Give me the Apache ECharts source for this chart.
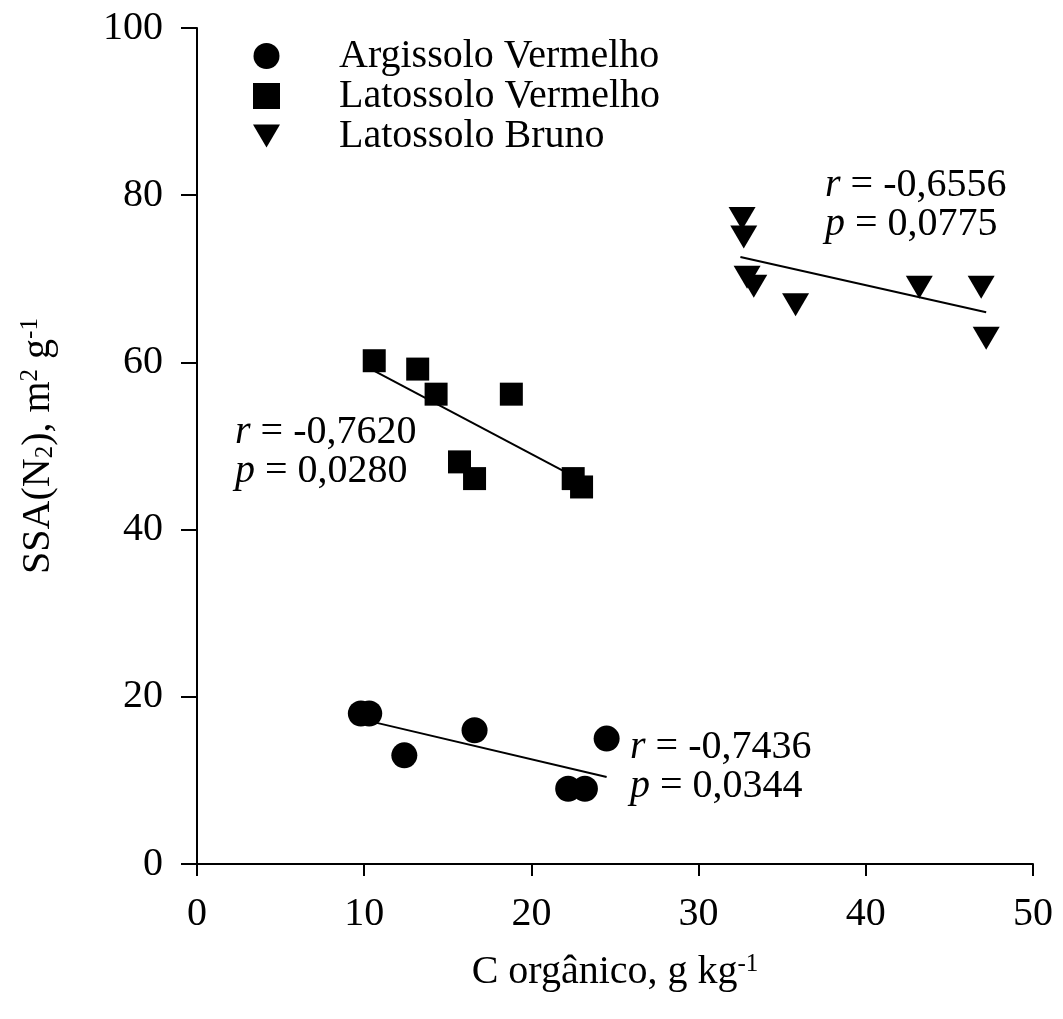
<!DOCTYPE html>
<html>
<head>
<meta charset="utf-8">
<script src="https://cdn.jsdelivr.net/npm/echarts@6/dist/echarts.min.js"></script>
<style>html,body{margin:0;padding:0;background:#fff;}#c{width:1063px;height:1019px;}</style>
</head>
<body>
<div id="c"></div>
<script>
// Data
const seriesNames = ['Argissolo Vermelho', 'Latossolo Vermelho', 'Latossolo Bruno'];
const argX = [9.8, 10.3, 12.4, 16.6, 22.2, 23.2, 24.5];
const argY = [18.0, 18.0, 13.0, 16.0, 9.0, 9.0, 15.0];
const latVX = [10.6, 13.2, 14.3, 18.8, 15.7, 16.6, 22.5, 23.0];
const latVY = [60.2, 59.2, 56.2, 56.2, 48.1, 46.1, 46.1, 45.1];
const latBX = [32.6, 32.7, 32.9, 33.3, 35.8, 43.2, 46.9, 47.2];
const latBY = [77.2, 75.0, 70.2, 69.1, 66.9, 69.0, 69.0, 62.9];
// regression line endpoints
const fitArgX = [10.5, 24.5], fitArgY = [17.0, 10.4];
const fitLatVX = [10.6, 22.5], fitLatVY = [59.0, 46.4];
const fitLatBX = [32.5, 47.2], fitLatBY = [72.6, 66.0];
const xTicks = [0, 10, 20, 30, 40, 50];
const yTicks = [0, 20, 40, 60, 80, 100];
const stats = [
  {r: '-0,7436', p: '0,0344'},
  {r: '-0,7620', p: '0,0280'},
  {r: '-0,6556', p: '0,0775'}
];

const zip = (xs, ys) => xs.map((x, i) => [x, ys[i]]);
const FONT = '"Liberation Serif", "Times New Roman", serif';
const FS = 40;
const tri = 'path://M0,0 L20,0 L10,17 Z';

const chart = echarts.init(document.getElementById('c'));
const lineSeries = (xs, ys) => ({
  type: 'line', data: zip(xs, ys), symbol: 'none', silent: true,
  lineStyle: {color: '#000', width: 2}, z: 1, legendHoverLink: false
});
const annot = (x, y, s) => ({
  type: 'text', left: x, top: y, silent: true,
  style: {
    rich: {
      i: {fontFamily: FONT, fontSize: FS, fontStyle: 'italic', fill: '#000', lineHeight: 39},
      n: {fontFamily: FONT, fontSize: FS, fill: '#000', lineHeight: 39}
    },
    text: '{i|r}{n| = ' + s.r + '}\n{i|p}{n| = ' + s.p + '}'
  }
});
const richName = {
  n: {fontFamily: FONT, fontSize: FS, color: '#000', lineHeight: 40},
  sup: {fontFamily: FONT, fontSize: 25, color: '#000', lineHeight: 40, verticalAlign: 'top', padding: [0,0,14,0]},
  sub: {fontFamily: FONT, fontSize: 25, color: '#000', lineHeight: 40, verticalAlign: 'bottom', padding: [14,0,0,0]}
};

chart.setOption({
  animation: false,
  backgroundColor: '#fff',
  grid: {left: 197, right: 30, top: 28, bottom: 155, containLabel: false},
  legend: {
    orient: 'vertical', left: 248, top: 31, itemGap: 0,
    itemWidth: 27, itemHeight: 26,
    data: [
      {name: seriesNames[0], icon: 'circle'},
      {name: seriesNames[1], icon: 'rect'},
      {name: seriesNames[2], icon: tri}
    ],
    textStyle: {fontFamily: FONT, fontSize: FS, lineHeight: 40, color: '#000', padding: [0, 0, 0, 54]},
    selectedMode: false
  },
  xAxis: {
    type: 'value', min: 0, max: 50, interval: 10,
    name: '{n|C orgânico, g kg}{sup|-1}',
    nameLocation: 'middle', nameGap: 88,
    nameTextStyle: {rich: richName},
    axisLine: {show: true, onZero: false, lineStyle: {color: '#000', width: 2}},
    axisTick: {show: true, inside: false, length: 12, lineStyle: {color: '#000', width: 2}},
    axisLabel: {fontFamily: FONT, fontSize: FS, color: '#000', margin: 30,
      formatter: v => xTicks.includes(v) ? String(v) : ''},
    splitLine: {show: false}
  },
  yAxis: {
    type: 'value', min: 0, max: 100, interval: 20,
    name: '{n|SSA(N}{sub|2}{n|), m}{sup|2}{n| g}{sup|-1}',
    nameLocation: 'middle', nameGap: 139, nameRotate: 90,
    nameTextStyle: {rich: richName},
    axisLine: {show: true, onZero: false, lineStyle: {color: '#000', width: 2}},
    axisTick: {show: true, inside: false, length: 16, lineStyle: {color: '#000', width: 2}},
    axisLabel: {fontFamily: FONT, fontSize: FS, color: '#000', margin: 34,
      formatter: v => yTicks.includes(v) ? String(v) : ''},
    splitLine: {show: false}
  },
  series: [
    {name: seriesNames[0], type: 'scatter', data: zip(argX, argY), symbol: 'circle', symbolSize: 26,
      itemStyle: {color: '#000', opacity: 1}, z: 3},
    {name: seriesNames[1], type: 'scatter', data: zip(latVX, latVY), symbol: 'rect', symbolSize: 23,
      itemStyle: {color: '#000', opacity: 1}, z: 3},
    {name: seriesNames[2], type: 'scatter', data: zip(latBX, latBY), symbol: tri, symbolSize: [27, 23],
      itemStyle: {color: '#000', opacity: 1}, z: 3},
    lineSeries(fitArgX, fitArgY),
    lineSeries(fitLatVX, fitLatVY),
    lineSeries(fitLatBX, fitLatBY)
  ],
  graphic: [
    annot(630, 727, stats[0]),
    annot(235, 412, stats[1]),
    annot(825, 165, stats[2])
  ]
});
</script>
</body>
</html>
